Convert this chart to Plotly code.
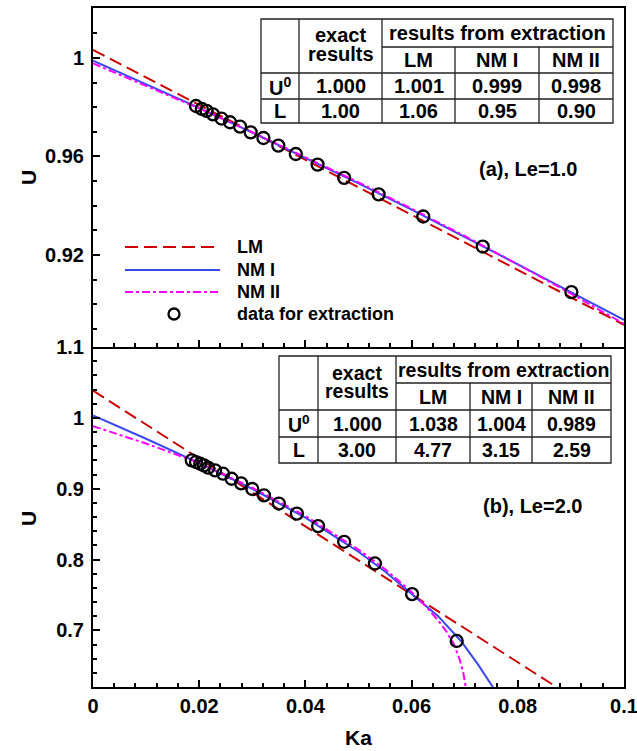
import numpy as np
import plotly.graph_objects as go

# ---------------- data ----------------
# panel (a): Le = 1.0
ka_a_data = [0.0194, 0.0205, 0.0214, 0.0226, 0.0242, 0.0258, 0.0277, 0.0297, 0.0321,
             0.0349, 0.0382, 0.0423, 0.0473, 0.0538, 0.0622, 0.0734, 0.0901]
u_a_data = [0.9805, 0.9793, 0.9785, 0.9771, 0.9754, 0.9739, 0.9721, 0.9698, 0.9675,
            0.9644, 0.9610, 0.9567, 0.9513, 0.9446, 0.9356, 0.9234, 0.9049]
ka_a_lm = [0.0, 0.1]
u_a_lm = [1.0033, 0.8916]
ka_a_nm1 = [0.0, 0.01, 0.02, 0.03, 0.04, 0.05, 0.06, 0.07, 0.08, 0.09, 0.1]
u_a_nm1 = [0.9989, 0.9894, 0.9797, 0.9697, 0.9595, 0.9491, 0.9384, 0.9274, 0.9162, 0.9049, 0.8936]
ka_a_nm2 = [0.0, 0.01, 0.02, 0.03, 0.04, 0.05, 0.06, 0.07, 0.08, 0.09, 0.1]
u_a_nm2 = [0.9978, 0.9888, 0.9795, 0.9698, 0.9598, 0.9495, 0.9388, 0.9277, 0.9162, 0.9043, 0.8920]

# panel (b): Le = 2.0
ka_b_data = [0.0186, 0.0194, 0.0202, 0.0209, 0.0217, 0.0230, 0.0245, 0.0261, 0.0279,
             0.0300, 0.0322, 0.0350, 0.0384, 0.0424, 0.0473, 0.0531, 0.0601, 0.0685]
u_b_data = [0.9399, 0.9376, 0.9352, 0.9328, 0.9296, 0.9258, 0.9211, 0.9140, 0.9075,
            0.8995, 0.8905, 0.8790, 0.8648, 0.8472, 0.8250, 0.7944, 0.7512, 0.6850]
ka_b_lm = [0.0, 0.0880]
u_b_lm = [1.0385, 0.6166]
ka_b_nm1 = [0.0, 0.01, 0.02, 0.03, 0.04, 0.045, 0.05, 0.055, 0.06, 0.065, 0.0693, 0.0725, 0.0753, 0.0757]
u_b_nm1 = [1.0033, 0.9705, 0.9360, 0.8998, 0.8590, 0.8355, 0.8110, 0.7830, 0.7515, 0.7200, 0.6850, 0.6520, 0.6200, 0.6150]
ka_b_nm2 = [0.0, 0.01, 0.02, 0.03, 0.04, 0.05, 0.055, 0.06, 0.0625, 0.065, 0.0665, 0.068, 0.069, 0.0697, 0.0702, 0.0703]
u_b_nm2 = [0.9883, 0.9637, 0.9365, 0.9013, 0.8615, 0.8140, 0.7865, 0.7540, 0.7355, 0.7140, 0.6990, 0.6800, 0.6600, 0.6420, 0.6200, 0.6150]

# tick labels
x_tickvals = [0, 0.02, 0.04, 0.06, 0.08, 0.1]
x_ticktext = ["0", "0.02", "0.04", "0.06", "0.08", "0.1"]
ya_tickvals = [0.92, 0.96, 1.0]
ya_ticktext = ["0.92", "0.96", "1"]
yb_tickvals = [0.7, 0.8, 0.9, 1.0, 1.1]
yb_ticktext = ["0.7", "0.8", "0.9", "1", "1.1"]

# tables
methods = ["LM", "NM I", "NM II"]
table_a_u0 = ["1.000", "1.001", "0.999", "0.998"]
table_a_l = ["1.00", "1.06", "0.95", "0.90"]
table_b_u0 = ["1.000", "1.038", "1.004", "0.989"]
table_b_l = ["3.00", "4.77", "3.15", "2.59"]

# ---------------- styling / layout ----------------
FONT = "Liberation Sans, Arial, sans-serif"
RED = "#CC0000"
BLUE = "#3A48F0"
MAG = "#FF00FF"
W, H = 637, 751
L, R, T, B = 93, 624, 8, 687
MID = 347


def px(x):
    return (x - L) / (R - L)


def py(y):
    return (B - y) / (B - T)


split = py(MID)

fig = go.Figure()


def add_panel(xa, ya, lm, nm1, nm2, data):
    fig.add_trace(go.Scatter(x=lm[0], y=lm[1], mode="lines", xaxis=xa, yaxis=ya,
                             line=dict(color=RED, width=2, dash="13px,6px"), showlegend=False))
    fig.add_trace(go.Scatter(x=nm1[0], y=nm1[1], mode="lines", xaxis=xa, yaxis=ya,
                             line=dict(color=BLUE, width=2), showlegend=False))
    fig.add_trace(go.Scatter(x=nm2[0], y=nm2[1], mode="lines", xaxis=xa, yaxis=ya,
                             line=dict(color=MAG, width=2, dash="8px,3px,3px,3px"), showlegend=False))
    fig.add_trace(go.Scatter(x=data[0], y=data[1], mode="markers", xaxis=xa, yaxis=ya,
                             marker=dict(symbol="circle-open", size=12, color="black",
                                         line=dict(width=2.3, color="black")),
                             showlegend=False))


add_panel("x2", "y2", (ka_a_lm, u_a_lm), (ka_a_nm1, u_a_nm1), (ka_a_nm2, u_a_nm2), (ka_a_data, u_a_data))
add_panel("x", "y", (ka_b_lm, u_b_lm), (ka_b_nm1, u_b_nm1), (ka_b_nm2, u_b_nm2), (ka_b_data, u_b_data))

tickfont = dict(family=FONT, size=20, color="black", weight="bold")
common = dict(showline=True, linecolor="black", linewidth=2, showgrid=False,
              zeroline=False, ticks="inside", ticklen=7, tickwidth=2, tickcolor="black",
              tickfont=tickfont, automargin=False)

x_minor = list(np.round(np.arange(0, 0.1001, 0.004), 4))
ya_minor = list(np.round(np.arange(0.89, 1.0201, 0.01), 3))
yb_minor = list(np.round(np.arange(0.64, 1.1001, 0.02), 3))
minor_style = dict(ticks="inside", ticklen=4, tickwidth=1.5, tickcolor="black")
XR = [0, 0.10001]

fig.update_layout(
    width=W, height=H,
    margin=dict(l=L, r=W - R, t=T, b=H - B, autoexpand=False),
    paper_bgcolor="white", plot_bgcolor="white",
    showlegend=False,
    xaxis=dict(domain=[0, 1], anchor="y", range=XR, tickmode="array",
               tickvals=x_tickvals, ticktext=x_ticktext, ticklabelstandoff=0,
               ticklabeloverflow="allow", mirror=False,
               minor=dict(tickmode="array", tickvals=x_minor, **minor_style), **common),
    yaxis=dict(domain=[0, split], anchor="x", range=[0.62, 1.1], tickmode="array",
               tickvals=yb_tickvals, ticktext=yb_ticktext, ticklabelstandoff=3, mirror=True,
               minor=dict(tickmode="array", tickvals=yb_minor, **minor_style), **common),
    xaxis2=dict(domain=[0, 1], anchor="y2", range=XR, tickmode="array",
                tickvals=x_tickvals, showticklabels=False, matches="x", mirror=True,
                minor=dict(tickmode="array", tickvals=x_minor, **minor_style), **common),
    yaxis2=dict(domain=[split, 1], anchor="x2", range=[0.8826, 1.0203], tickmode="array",
                tickvals=ya_tickvals, ticktext=ya_ticktext, ticklabelstandoff=3, mirror=True,
                minor=dict(tickmode="array", tickvals=ya_minor, **minor_style), **common),
)

shapes = []
annotations = []


def text(xp, yp, s, size=20, anchor="center"):
    annotations.append(dict(x=px(xp), y=py(yp), xref="paper", yref="paper", text=s,
                            showarrow=False, xanchor=anchor, yanchor="middle",
                            font=dict(family=FONT, size=size, color="black", weight="bold")))


def hline(x0, x1, y, color="#222", width=1.3):
    shapes.append(dict(type="line", xref="paper", yref="paper", x0=px(x0), x1=px(x1),
                       y0=py(y), y1=py(y), line=dict(color=color, width=width), layer="above"))


def vline(x, y0, y1, color="#222", width=1.3):
    shapes.append(dict(type="line", xref="paper", yref="paper", x0=px(x), x1=px(x),
                       y0=py(y0), y1=py(y1), line=dict(color=color, width=width), layer="above"))


def draw_table(cols, rows, u0_vals, l_vals, size):
    c0, c1, c2, c3, c4, c5 = cols
    r0, r1, r2, r3, r4 = rows
    shapes.append(dict(type="rect", xref="paper", yref="paper", x0=px(c0), x1=px(c5),
                       y0=py(r4), y1=py(r0), fillcolor="white",
                       line=dict(color="#222", width=1.3), layer="above"))
    vline(c1, r0, r4)
    vline(c2, r0, r4)
    vline(c3, r1, r4)
    vline(c4, r1, r4)
    hline(c2, c5, r1)
    hline(c0, c5, r2)
    hline(c0, c5, r3)
    xc_ex = (c1 + c2) / 2
    text(xc_ex, r0 + 16.5, "exact", size)
    text(xc_ex, r0 + 35, "results", size)
    text((c2 + c5) / 2, (r0 + r1) / 2, "results from extraction", size)
    centers = [(c2 + c3) / 2, (c3 + c4) / 2, (c4 + c5) / 2]
    for xc, m in zip(centers, methods):
        text(xc, (r1 + r2) / 2, m, size)
    vals_x = [xc_ex] + centers
    for xc, v in zip(vals_x, u0_vals):
        text(xc, (r2 + r3) / 2, v, size)
    for xc, v in zip(vals_x, l_vals):
        text(xc, (r3 + r4) / 2, v, size)
    text((c0 + c1) / 2, (r2 + r3) / 2, "U<sup>0</sup>", size)
    text((c0 + c1) / 2, (r3 + r4) / 2, "L", size)


draw_table([261, 299, 382, 455, 539, 613], [19, 47, 73, 99, 123], table_a_u0, table_a_l, 20)
draw_table([279, 318, 396, 470, 532, 611], [356, 383, 410, 437, 463], table_b_u0, table_b_l, 19.5)

# panel labels
text(528, 169, "(a), Le=1.0", 20)
text(532, 506, "(b), Le=2.0", 20)

# axis titles
text(358, 737, "Ka", 21)
annotations.append(dict(x=px(28), y=py(178), xref="paper", yref="paper", text="U", textangle=-90,
                        showarrow=False, xanchor="center", yanchor="middle",
                        font=dict(family=FONT, size=21, color="black", weight="bold")))
annotations.append(dict(x=px(28), y=py(519), xref="paper", yref="paper", text="U", textangle=-90,
                        showarrow=False, xanchor="center", yanchor="middle",
                        font=dict(family=FONT, size=21, color="black", weight="bold")))

# legend (drawn manually, panel a)
leg_items = [("LM", RED, "13px,6px", 247), ("NM I", BLUE, "solid", 270), ("NM II", MAG, "8px,3px,3px,3px", 292)]
for name, col, dash, yy in leg_items:
    shapes.append(dict(type="line", xref="paper", yref="paper", x0=px(125), x1=px(220),
                       y0=py(yy), y1=py(yy), line=dict(color=col, width=2, dash=dash)))
    text(235, yy, name, 18, anchor="left")
shapes.append(dict(type="circle", xref="paper", yref="paper", x0=px(168.5), x1=px(179.5),
                   y0=py(319.5), y1=py(308.5), line=dict(color="black", width=2.3)))
text(235, 314, "data for extraction", 18, anchor="left")

fig.update_layout(shapes=shapes, annotations=annotations)
fig.write_html("out.html")
